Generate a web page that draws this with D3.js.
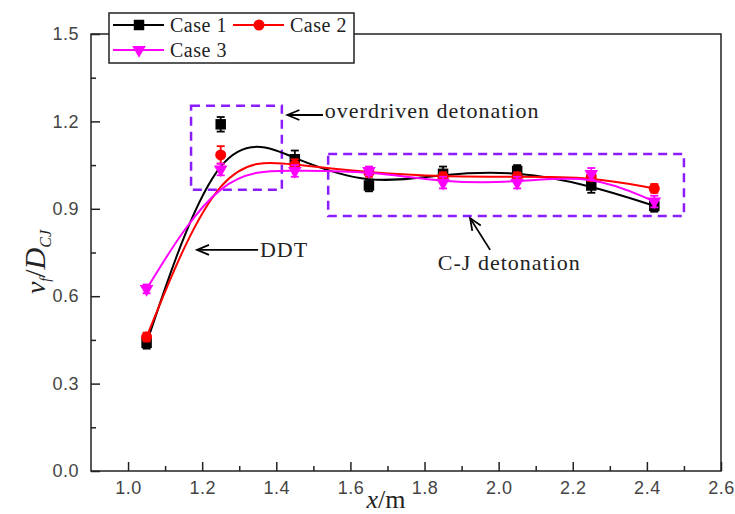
<!DOCTYPE html>
<html>
<head>
<meta charset="utf-8">
<script src="https://cdn.jsdelivr.net/npm/d3@7"></script>
<style>
  body { margin: 0; background: #fff; }
  svg { display: block; }
  .tick-label { font-family: "Liberation Sans", Arial, sans-serif; font-size: 18px; fill: #444; letter-spacing: 0.5px; }
  .serif { font-family: "Liberation Serif", "Times New Roman", serif; }
</style>
</head>
<body>
<div id="chart"></div>
<script>
// measured positions along the tube (m)
const positions = [1.05, 1.25, 1.45, 1.65, 1.85, 2.05, 2.25, 2.42];

// v_f / D_CJ per case
const case1 = [0.44, 1.19, 1.07, 0.98, 1.02, 1.03, 0.98, 0.91];
const case2 = [0.46, 1.085, 1.05, 1.025, 1.01, 1.01, 1.01, 0.97];
const case3 = [0.625, 1.035, 1.03, 1.03, 0.99, 0.99, 1.02, 0.925];

// error bar half-heights
const err1 = [0.02, 0.025, 0.03, 0.02, 0.025, 0.02, 0.025, 0.02];
const err2 = [0.015, 0.03, 0.02, 0.015, 0.015, 0.015, 0.015, 0.015];
const err3 = [0.015, 0.02, 0.02, 0.015, 0.02, 0.02, 0.02, 0.02];

const seriesNames = ["Case 1", "Case 2", "Case 3"];

const xTicks = [1.0, 1.2, 1.4, 1.6, 1.8, 2.0, 2.2, 2.4, 2.6];
const yTicks = [0.0, 0.3, 0.6, 0.9, 1.2, 1.5];

const width = 735, height = 514;
const margin = { top: 34, right: 14, bottom: 43, left: 91 };
const w = width - margin.left - margin.right;
const h = height - margin.top - margin.bottom;

const svg = d3.select("#chart").append("svg")
    .attr("width", width)
    .attr("height", height);

const x = d3.scaleLinear().domain([0.9, 2.6]).range([0, w]);
const y = d3.scaleLinear().domain([0, 1.5]).range([h, 0]);

const chart = svg.append("g")
    .attr("transform", "translate(" + margin.left + "," + margin.top + ")");

// frame
chart.append("rect")
    .attr("width", w).attr("height", h)
    .attr("fill", "none").attr("stroke", "#222").attr("stroke-width", 1.5);

// x axis: major + minor ticks pointing inward
const xAxis = chart.append("g").attr("transform", "translate(0," + h + ")");
xAxis.call(d3.axisBottom(x).tickValues(xTicks).tickSize(-9).tickPadding(10).tickFormat(d3.format(".1f")));
xAxis.append("g").call(d3.axisBottom(x).tickValues(d3.range(1.1, 2.6, 0.2)).tickSize(-5).tickFormat(""));

const yAxis = chart.append("g");
yAxis.call(d3.axisLeft(y).tickValues(yTicks).tickSize(-9).tickPadding(12).tickFormat(d3.format(".1f")));
yAxis.append("g").call(d3.axisLeft(y).tickValues(d3.range(0.15, 1.5, 0.3)).tickSize(-5).tickFormat(""));

chart.selectAll(".domain").remove();
chart.selectAll(".tick line").attr("stroke", "#222").attr("stroke-width", 1.5);
chart.selectAll(".tick text").attr("class", "tick-label").attr("font-size", null).attr("font-family", null);

// annotation boxes and arrows (data coordinates)
const boxOverdriven = [1.17, 1.415, 0.965, 1.254];
const boxCJ = [1.54, 2.5, 0.875, 1.088];
const purple = "#8a1cff";

[boxOverdriven, boxCJ].forEach(b => {
    chart.append("rect")
        .attr("x", x(b[0])).attr("y", y(b[3]))
        .attr("width", x(b[1]) - x(b[0]))
        .attr("height", y(b[2]) - y(b[3]))
        .attr("fill", "none")
        .attr("stroke", purple)
        .attr("stroke-width", 2.5)
        .attr("stroke-dasharray", "9,6");
});

svg.append("defs").append("marker")
    .attr("id", "head")
    .attr("viewBox", "-2 -7 16 14")
    .attr("refX", 0).attr("refY", 0)
    .attr("markerWidth", 16).attr("markerHeight", 14)
    .attr("markerUnits", "userSpaceOnUse")
    .attr("orient", "auto")
    .append("path")
    .attr("d", "M12,-5 L0,0 L12,5")
    .attr("fill", "none").attr("stroke", "#000").attr("stroke-width", 1.8);

const arrows = [
    { from: [1.526, 1.222], to: [1.43, 1.222] },
    { from: [1.351, 0.759], to: [1.186, 0.759] },
    { from: [1.977, 0.759], to: [1.923, 0.868] }
];
arrows.forEach(a => {
    chart.append("line")
        .attr("x1", x(a.to[0])).attr("y1", y(a.to[1]))
        .attr("x2", x(a.from[0])).attr("y2", y(a.from[1]))
        .attr("stroke", "#000").attr("stroke-width", 1.8)
        .attr("marker-start", "url(#head)");
});

const notes = [
    { text: "overdriven detonation", at: [1.531, 1.213] },
    { text: "DDT", at: [1.356, 0.734] },
    { text: "C-J detonation", at: [1.836, 0.69] }
];
notes.forEach(n => {
    chart.append("text")
        .attr("class", "serif")
        .attr("x", x(n.at[0])).attr("y", y(n.at[1]))
        .attr("font-size", 22)
        .attr("letter-spacing", "1px")
        .attr("fill", "#222")
        .text(n.text);
});

// series
const line = d3.line()
    .x(d => x(d.x))
    .y(d => y(d.v))
    .curve(d3.curveBasis);

const symbols = [d3.symbolSquare, d3.symbolCircle, d3.symbolTriangle];
const symbolSizes = [110, 95, 80];
const colors = ["#000000", "#ff0000", "#ff00ff"];
const values = [case1, case2, case3];
const errors = [err1, err2, err3];

values.forEach((vals, i) => {
    const pts = positions.map((p, j) => ({ x: p, v: vals[j], e: errors[i][j] }));
    const g = chart.append("g");

    g.append("path")
        .datum(pts)
        .attr("d", line)
        .attr("fill", "none")
        .attr("stroke", colors[i])
        .attr("stroke-width", 2);

    const eb = g.selectAll(".err").data(pts).join("g");
    eb.append("line")
        .attr("x1", d => x(d.x)).attr("x2", d => x(d.x))
        .attr("y1", d => y(d.v - d.e)).attr("y2", d => y(d.v + d.e))
        .attr("stroke", colors[i]).attr("stroke-width", 1.8);
    [-1, 1].forEach(s => {
        eb.append("line")
            .attr("x1", d => x(d.x) - 4).attr("x2", d => x(d.x) + 4)
            .attr("y1", d => y(d.v + s * d.e)).attr("y2", d => y(d.v + s * d.e))
            .attr("stroke", colors[i]).attr("stroke-width", 1.8);
    });

    g.selectAll(".sym").data(pts).join("path")
        .attr("d", d3.symbol().type(symbols[i]).size(symbolSizes[i]))
        .attr("transform", d => "translate(" + x(d.x) + "," + y(d.v) + ")" + (i === 2 ? " rotate(180)" : ""))
        .attr("fill", colors[i]);
});

// legend
const legend = svg.append("g").attr("transform", "translate(109,13)");
legend.append("rect")
    .attr("width", 245).attr("height", 50)
    .attr("fill", "#fff").attr("stroke", "#222").attr("stroke-width", 1.5);

const legendPos = [[4, 12], [124, 12], [4, 37]];
seriesNames.forEach((name, i) => {
    const lg = legend.append("g").attr("transform", "translate(" + legendPos[i][0] + "," + legendPos[i][1] + ")");
    lg.append("line")
        .attr("x1", 0).attr("x2", 51).attr("y1", 0).attr("y2", 0)
        .attr("stroke", colors[i]).attr("stroke-width", 2);
    lg.append("path")
        .attr("d", d3.symbol().type(symbols[i]).size(symbolSizes[i]))
        .attr("transform", "translate(26,0)" + (i === 2 ? " rotate(180)" : ""))
        .attr("fill", colors[i]);
    lg.append("text")
        .attr("class", "serif")
        .attr("x", 57).attr("y", 7)
        .attr("font-size", 20)
        .attr("letter-spacing", "0.5px")
        .attr("fill", "#222")
        .text(name);
});

// axis titles
const yTitle = svg.append("text")
    .attr("class", "serif")
    .attr("transform", "translate(45,262) rotate(-90)")
    .attr("text-anchor", "middle")
    .attr("font-size", 30)
    .attr("font-style", "italic")
    .attr("fill", "#222");
yTitle.append("tspan").attr("font-size", 28).text("v");
yTitle.append("tspan").attr("font-size", 14).attr("dy", 5).text("f");
yTitle.append("tspan").attr("dy", -5).attr("font-style", "normal").attr("font-weight", 300).text("/");
yTitle.append("tspan").text("D");
yTitle.append("tspan").attr("font-size", 16).attr("dy", 6).text("CJ");

const xTitle = svg.append("text")
    .attr("class", "serif")
    .attr("x", 386).attr("y", 508)
    .attr("text-anchor", "middle")
    .attr("font-size", 26)
    .attr("fill", "#222");
xTitle.append("tspan").attr("font-style", "italic").text("x");
xTitle.append("tspan").text("/m");
</script>
</body>
</html>
